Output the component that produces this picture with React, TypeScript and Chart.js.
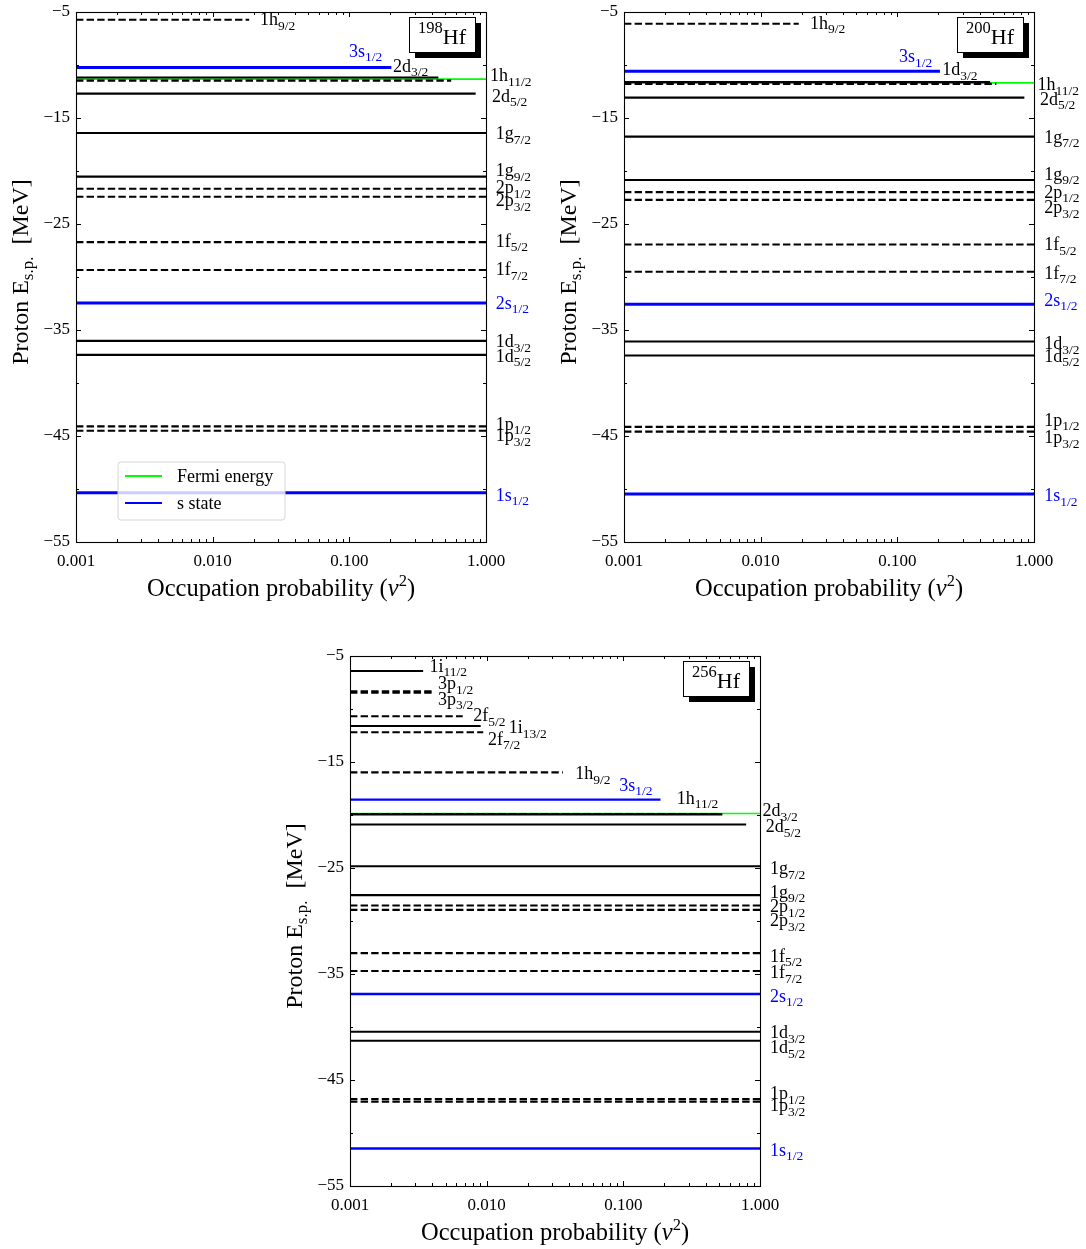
import React, { useEffect, useRef } from 'react';
import { Chart, registerables } from 'chart.js';

Chart.register(...registerables);

// ---------- shared axis data ----------
const X_MIN = 0.001;
const X_MAX = 1;
const X_TICKS = [0.001, 0.01, 0.1, 1];
const Y_MIN = -55;
const Y_MAX = -5;
const Y_TICKS = [-55, -45, -35, -25, -15, -5];

// ---------- 198Hf ----------
const HF198_ORBITALS = ['1h', '3s', '2d', '1h', '2d', '1g', '1g', '2p', '2p', '1f', '1f', '2s', '1d', '1d', '1p', '1p', '1s'];
const HF198_J = ['9/2', '1/2', '3/2', '11/2', '5/2', '7/2', '9/2', '1/2', '3/2', '5/2', '7/2', '1/2', '3/2', '5/2', '1/2', '3/2', '1/2'];
const HF198_ENERGY = [-5.73, -10.23, -11.18, -11.47, -12.70, -16.41, -20.53, -21.67, -22.43, -26.71, -29.34, -32.45, -36.03, -37.35, -44.09, -44.50, -50.36];
const HF198_V2 = [0.0185, 0.203, 0.448, 0.556, 0.84, 1, 1, 1, 1, 1, 1, 1, 1, 1, 1, 1, 1];
const HF198_FERMI = -11.34;
const HF198_LABEL_X = [0.0222, 0.0994, 0.209, 1.07, 1.107, 1.18, 1.18, 1.18, 1.18, 1.18, 1.18, 1.18, 1.18, 1.18, 1.18, 1.18, 1.18];
const HF198_LABEL_E = [-5.70, -8.65, -10.08, -10.97, -12.92, -16.42, -19.91, -21.51, -22.78, -26.60, -29.29, -32.45, -36.07, -37.42, -43.85, -44.95, -50.55];

// ---------- 200Hf ----------
const HF200_ORBITALS = ['1h', '3s', '1d', '1h', '2d', '1g', '1g', '2p', '2p', '1f', '1f', '2s', '1d', '1d', '1p', '1p', '1s'];
const HF200_J = ['9/2', '1/2', '3/2', '11/2', '5/2', '7/2', '9/2', '1/2', '3/2', '5/2', '7/2', '1/2', '3/2', '5/2', '1/2', '3/2', '1/2'];
const HF200_ENERGY = [-6.11, -10.58, -11.62, -11.78, -13.08, -16.76, -20.85, -21.99, -22.72, -26.93, -29.50, -32.58, -36.08, -37.41, -44.14, -44.59, -50.46];
const HF200_V2 = [0.019, 0.205, 0.477, 0.53, 0.85, 1, 1, 1, 1, 1, 1, 1, 1, 1, 1, 1, 1];
const HF200_FERMI = -11.69;
const HF200_LABEL_X = [0.023, 0.1028, 0.2133, 1.061, 1.106, 1.19, 1.19, 1.19, 1.19, 1.19, 1.19, 1.19, 1.19, 1.19, 1.19, 1.19, 1.19];
const HF200_LABEL_E = [-6.02, -9.19, -10.40, -11.83, -13.20, -16.79, -20.25, -21.98, -23.40, -26.89, -29.61, -32.15, -36.24, -37.44, -43.48, -45.13, -50.60];

// ---------- 256Hf ----------
const HF256_ORBITALS = ['1i', '3p', '3p', '2f', '1i', '2f', '1h', '3s', '1h', '2d', '2d', '1g', '1g', '2p', '2p', '1f', '1f', '2s', '1d', '1d', '1p', '1p', '1s'];
const HF256_J = ['11/2', '1/2', '3/2', '5/2', '13/2', '7/2', '9/2', '1/2', '11/2', '3/2', '5/2', '7/2', '9/2', '1/2', '3/2', '5/2', '7/2', '1/2', '3/2', '5/2', '1/2', '3/2', '1/2'];
const HF256_ENERGY = [-6.42, -8.33, -8.47, -10.69, -11.60, -12.20, -15.98, -18.55, -19.90, -19.94, -20.89, -24.84, -27.56, -28.54, -28.95, -33.03, -34.72, -36.88, -40.45, -41.30, -46.79, -47.04, -51.46];
const HF256_V2 = [0.00343, 0.00396, 0.00396, 0.00668, 0.00904, 0.00944, 0.0361, 0.187, 0.52, 0.53, 0.792, 1, 1, 1, 1, 1, 1, 1, 1, 1, 1, 1, 1];
const HF256_FERMI = -19.86;
const HF256_LABEL_X = [0.00381, 0.0044, 0.0044, 0.00797, 0.01449, 0.01023, 0.0445, 0.0932, 0.246, 1.041, 1.103, 1.183, 1.183, 1.183, 1.183, 1.183, 1.183, 1.183, 1.183, 1.183, 1.183, 1.183, 1.183];
const HF256_LABEL_E = [-5.94, -7.59, -9.02, -10.60, -11.71, -12.81, -16.04, -17.15, -18.35, -19.56, -21.04, -25.0, -27.22, -28.63, -29.91, -33.27, -34.84, -37.04, -40.49, -41.90, -46.23, -47.39, -51.60];

const LEGEND_LABELS = ['Fermi energy', 's state'];

const SERIF = '"Liberation Serif", "Times New Roman", serif';
const BLUE = '#0000ff';
const GREEN = '#00ff00';
const Y_AXIS_W = 50;
const X_AXIS_H = 40;

type Part = { text: string; size: number; dy?: number; italic?: boolean; color?: string };

function drawParts(ctx: CanvasRenderingContext2D, parts: Part[], x: number, y: number, align: 'left' | 'center', color = '#000') {
  let total = 0;
  const widths = parts.map((p) => {
    ctx.font = `${p.italic ? 'italic ' : ''}${p.size}px ${SERIF}`;
    const w = ctx.measureText(p.text).width;
    total += w;
    return w;
  });
  let cx = align === 'center' ? x - total / 2 : x;
  ctx.textBaseline = 'alphabetic';
  ctx.textAlign = 'left';
  parts.forEach((p, i) => {
    ctx.font = `${p.italic ? 'italic ' : ''}${p.size}px ${SERIF}`;
    ctx.fillStyle = p.color || color;
    ctx.fillText(p.text, cx, y + (p.dy || 0));
    cx += widths[i];
  });
  return total;
}

type Spec = {
  left: number; top: number; width: number; height: number;
  area: { left: number; top: number; right: number; bottom: number };
  orbitals: string[]; j: string[]; energy: number[]; v2: number[]; fermi: number;
  labelX: number[]; labelE: number[]; mass: string; blueWidth: number; legend: boolean;
};

const SPECS: Spec[] = [
  {
    left: 0, top: -10, width: 543, height: 620,
    area: { left: 76, top: 12, right: 486, bottom: 542 },
    orbitals: HF198_ORBITALS, j: HF198_J, energy: HF198_ENERGY, v2: HF198_V2, fermi: HF198_FERMI,
    labelX: HF198_LABEL_X, labelE: HF198_LABEL_E, mass: '198', blueWidth: 3, legend: true,
  },
  {
    left: 543, top: -10, width: 543, height: 620,
    area: { left: 624, top: 12, right: 1034, bottom: 542 },
    orbitals: HF200_ORBITALS, j: HF200_J, energy: HF200_ENERGY, v2: HF200_V2, fermi: HF200_FERMI,
    labelX: HF200_LABEL_X, labelE: HF200_LABEL_E, mass: '200', blueWidth: 3, legend: false,
  },
  {
    left: 270, top: 632, width: 546, height: 617,
    area: { left: 350, top: 656, right: 760, bottom: 1186 },
    orbitals: HF256_ORBITALS, j: HF256_J, energy: HF256_ENERGY, v2: HF256_V2, fermi: HF256_FERMI,
    labelX: HF256_LABEL_X, labelE: HF256_LABEL_E, mass: '256', blueWidth: 2.4, legend: false,
  },
];

function isPow10(v: number) {
  const l = Math.log10(v);
  return Math.abs(l - Math.round(l)) < 1e-9;
}

function Panel({ spec }: { spec: Spec }) {
  const ref = useRef<HTMLCanvasElement | null>(null);

  useEffect(() => {
    const canvas = ref.current;
    if (!canvas) return;
    const s = spec;

    const datasets: any[] = s.orbitals.map((o, i) => {
      const l = o.slice(-1);
      const isS = l === 's';
      const odd = l === 'p' || l === 'f' || l === 'h';
      return {
        label: o + s.j[i],
        data: [{ x: X_MIN, y: s.energy[i] }, { x: s.v2[i], y: s.energy[i] }],
        borderColor: isS ? BLUE : '#000000',
        borderWidth: isS ? s.blueWidth : 2.1,
        borderDash: odd ? [7.4, 3.2] : [],
        borderCapStyle: 'butt',
        pointRadius: 0,
        fill: false,
        tension: 0,
      };
    });
    datasets.push({
      label: LEGEND_LABELS[0],
      data: [{ x: X_MIN, y: s.fermi }, { x: X_MAX, y: s.fermi }],
      borderColor: GREEN,
      borderWidth: 1.7,
      pointRadius: 0,
      fill: false,
    });

    const overlay = {
      id: 'overlay',
      afterDraw(chart: any) {
        const ctx: CanvasRenderingContext2D = chart.ctx;
        const a = chart.chartArea;
        const xs = chart.scales.x;
        const ys = chart.scales.y;
        ctx.save();
        // legend (drawn over the data)
        if (s.legend) {
          const lx = a.left + 42, ly = a.bottom - 80, lw = 167, lh = 58, r = 3;
          ctx.beginPath();
          ctx.moveTo(lx + r, ly);
          ctx.arcTo(lx + lw, ly, lx + lw, ly + lh, r);
          ctx.arcTo(lx + lw, ly + lh, lx, ly + lh, r);
          ctx.arcTo(lx, ly + lh, lx, ly, r);
          ctx.arcTo(lx, ly, lx + lw, ly, r);
          ctx.closePath();
          ctx.fillStyle = 'rgba(255,255,255,0.8)';
          ctx.fill();
          ctx.strokeStyle = '#d6d6d6';
          ctx.lineWidth = 1;
          ctx.stroke();
          const colors = [GREEN, BLUE];
          LEGEND_LABELS.forEach((t, i) => {
            const yy = ly + 14 + i * 27;
            ctx.strokeStyle = colors[i];
            ctx.lineWidth = 2;
            ctx.setLineDash([]);
            ctx.beginPath();
            ctx.moveTo(lx + 7, yy);
            ctx.lineTo(lx + 44, yy);
            ctx.stroke();
            drawParts(ctx, [{ text: t, size: 18 }], lx + 59, yy + 6, 'left');
          });
        }
        // frame
        ctx.setLineDash([]);
        ctx.strokeStyle = '#000';
        ctx.lineWidth = 1.1;
        ctx.strokeRect(a.left + 0.5, a.top + 0.5, a.right - a.left, a.bottom - a.top);
        // ticks
        ctx.lineWidth = 1;
        const tick = (x1: number, y1: number, x2: number, y2: number) => {
          ctx.beginPath();
          ctx.moveTo(x1, y1);
          ctx.lineTo(x2, y2);
          ctx.stroke();
        };
        X_TICKS.forEach((d, i) => {
          const px = Math.round(xs.getPixelForValue(d)) + 0.5;
          tick(px, a.bottom, px, a.bottom - 5);
          tick(px, a.top, px, a.top + 5);
          if (i < X_TICKS.length - 1) {
            for (let k = 2; k <= 9; k++) {
              const mx = Math.round(xs.getPixelForValue(k * d)) + 0.5;
              tick(mx, a.bottom, mx, a.bottom - 3);
              tick(mx, a.top, mx, a.top + 3);
            }
          }
        });
        Y_TICKS.forEach((v, i) => {
          const py = Math.round(ys.getPixelForValue(v)) + 0.5;
          tick(a.left, py, a.left + 5, py);
          tick(a.right, py, a.right - 5, py);
          if (i < Y_TICKS.length - 1) {
            const my = Math.round(ys.getPixelForValue((v + Y_TICKS[i + 1]) / 2)) + 0.5;
            tick(a.left, my, a.left + 3, my);
            tick(a.right, my, a.right - 3, my);
          }
        });
        // level labels
        s.orbitals.forEach((o, i) => {
          const color = o.slice(-1) === 's' ? BLUE : '#000';
          const px = xs.getPixelForValue(s.labelX[i]);
          const py = ys.getPixelForValue(s.labelE[i]) + 6;
          drawParts(ctx, [{ text: o, size: 18 }, { text: s.j[i], size: 13.5, dy: 4.5 }], px, py, 'left', color);
        });
        // nucleus box
        const bw = 66, bh = 35;
        const bx = a.right - 11 - bw, by = a.top + 5;
        ctx.fillStyle = '#000';
        ctx.fillRect(bx + 6, by + 6, bw, bh);
        ctx.fillStyle = '#fff';
        ctx.fillRect(bx, by, bw, bh);
        ctx.strokeStyle = '#000';
        ctx.lineWidth = 1;
        ctx.strokeRect(bx + 0.5, by + 0.5, bw, bh);
        drawParts(ctx, [{ text: s.mass, size: 16.5, dy: -11 }, { text: 'Hf', size: 22 }], bx + bw / 2, by + 27, 'center');
        // axis titles
        drawParts(ctx, [{ text: 'Occupation probability (', size: 24.5 }, { text: 'v', size: 24.5, italic: true }, { text: '2', size: 16.5, dy: -10 }, { text: ')', size: 24.5 }], (a.left + a.right) / 2, a.bottom + 54, 'center');
        ctx.save();
        ctx.translate(a.left - 48, (a.top + a.bottom) / 2 - 5);
        ctx.rotate(-Math.PI / 2);
        drawParts(ctx, [{ text: 'Proton E', size: 24 }, { text: 's.p.', size: 17, dy: 5 }, { text: '  [MeV]', size: 24 }], 0, 0, 'center');
        ctx.restore();
        ctx.restore();
      },
    };

    const chart = new Chart(canvas, {
      type: 'line',
      data: { datasets },
      options: {
        responsive: false,
        animation: false,
        devicePixelRatio: 1,
        events: [],
        layout: {
          padding: {
            left: s.area.left - s.left - Y_AXIS_W,
            top: s.area.top - s.top,
            right: s.left + s.width - s.area.right,
            bottom: s.top + s.height - s.area.bottom - X_AXIS_H,
          },
        },
        plugins: { legend: { display: false }, tooltip: { enabled: false }, title: { display: false } },
        scales: {
          x: {
            type: 'logarithmic',
            position: 'bottom',
            min: X_MIN,
            max: X_MAX,
            grid: { display: false, drawTicks: false },
            border: { display: false },
            afterBuildTicks: (sc: any) => { sc.ticks = X_TICKS.map((v) => ({ value: v, major: true })); },
            afterFit: (sc: any) => { sc.height = X_AXIS_H; },
            ticks: {
              autoSkip: false,
              maxRotation: 0,
              padding: 9,
              color: '#000',
              font: { family: SERIF, size: 17 },
              callback: (v: any) => (isPow10(Number(v)) ? Number(v).toFixed(3) : ''),
            },
          },
          y: {
            type: 'linear',
            min: Y_MIN,
            max: Y_MAX,
            grid: { display: false, drawTicks: false },
            border: { display: false },
            afterBuildTicks: (sc: any) => { sc.ticks = Y_TICKS.map((v) => ({ value: v })); },
            afterFit: (sc: any) => { sc.width = Y_AXIS_W; },
            ticks: {
              padding: 6,
              color: '#000',
              font: { family: SERIF, size: 17 },
              callback: (v: any) => (Number(v) < 0 ? '\u2212' + Math.abs(Number(v)) : String(v)),
            },
          },
        },
      } as any,
      plugins: [overlay],
    });
    return () => chart.destroy();
  }, [spec]);

  return (
    <canvas
      ref={ref}
      width={spec.width}
      height={spec.height}
      style={{ position: 'absolute', left: spec.left, top: spec.top, width: spec.width, height: spec.height, display: 'block' }}
    />
  );
}

export default function App() {
  return (
    <div style={{ position: 'absolute', left: 0, top: 0, width: 1086, height: 1249, background: '#fff', overflow: 'hidden' }}>
      {SPECS.map((s, i) => (
        <Panel key={i} spec={s} />
      ))}
    </div>
  );
}
